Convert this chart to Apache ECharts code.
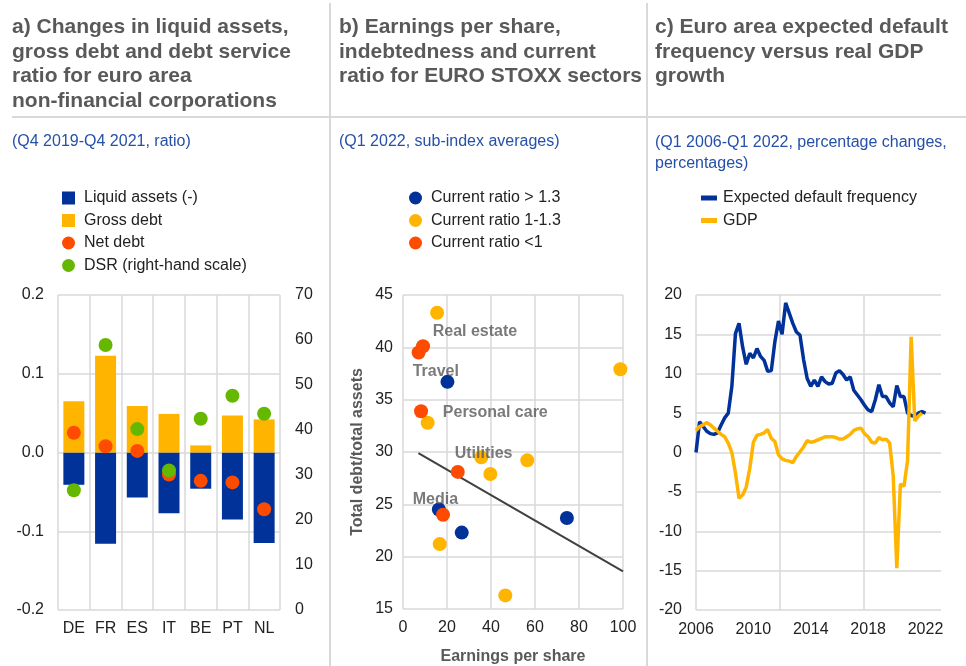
<!DOCTYPE html>
<html>
<head>
<meta charset="utf-8">
<script src="https://cdn.jsdelivr.net/npm/echarts@6/dist/echarts.min.js"></script>
<style>
html,body{margin:0;padding:0;background:#fff;}
#main{width:966px;height:666px;}
</style>
</head>
<body>
<div id="main"></div>
<script>
// a) liquid assets, gross debt, net debt, DSR
var countries = ['DE', 'FR', 'ES', 'IT', 'BE', 'PT', 'NL'];
var liquidAssets = [-0.041, -0.116, -0.057, -0.077, -0.046, -0.085, -0.115];
var grossDebt = [0.065, 0.123, 0.059, 0.049, 0.009, 0.047, 0.042];
var netDebt = [0.025, 0.008, 0.002, -0.028, -0.036, -0.038, -0.072];
var dsr = [26.6, 58.9, 40.2, 31.0, 42.5, 47.6, 43.6];

// b) EPS vs debt/assets, by current ratio group
var ratioHigh = [[20.2, 36.7], [16.3, 24.5], [26.7, 22.3], [74.5, 23.7]];
var ratioMid = [[15.5, 43.3], [98.8, 37.9], [11.2, 32.8], [35.6, 29.5], [56.5, 29.2], [39.7, 27.9], [16.7, 21.2], [46.5, 16.3]];
var ratioLow = [[7.1, 39.5], [9.1, 40.1], [8.2, 33.9], [24.9, 28.1], [18.2, 24.0]];
var trendLine = [[7, 29.9], [100, 18.6]];
var sectorNames = ['Real estate', 'Travel', 'Personal care', 'Utilities', 'Media'];
var sectorAnchors = [[13.5, 41.5], [4.4, 37.7], [18.1, 33.8], [23.5, 29.8], [4.4, 25.5]];

// c) quarterly from Q1 2006
var firstYear = 2006;
var edf = [0.0, 3.9, 3.3, 2.7, 2.4, 2.3, 2.5, 3.5, 4.4, 5.0,
    8.4, 15.1, 16.4, 13.4, 11.2, 12.6, 12.0, 13.2, 12.2, 11.7,
    10.3, 10.4, 14.1, 16.7, 15.0, 19.0, 17.7, 16.4, 15.3, 14.9,
    11.8, 9.4, 8.4, 9.2, 8.4, 9.6, 9.0, 8.7, 8.8, 10.1,
    10.4, 9.9, 9.2, 9.6, 7.9, 7.3, 6.7, 6.0, 5.4, 5.2,
    6.7, 8.6, 7.1, 7.1, 6.3, 5.8, 8.5, 7.1, 7.1, 5.0,
    4.7, 4.6, 5.0, 5.2, 5.0];
var gdp = [2.8, 3.3, 3.5, 3.8, 3.5, 3.1, 2.7, 2.3, 2.0, 1.2,
    0.0, -2.6, -5.8, -5.4, -4.4, -2.0, 1.3, 2.2, 2.3, 2.5,
    2.9, 1.8, 1.4, -0.3, -0.8, -1.0, -1.1, -1.3, -0.5, 0.1,
    0.7, 1.5, 1.3, 1.4, 1.6, 1.8, 2.0, 2.0, 2.0, 1.9,
    1.7, 1.7, 2.0, 2.3, 2.8, 3.0, 3.1, 2.4, 2.0, 1.3,
    1.2, 1.9, 1.6, 1.7, 1.2, -3.0, -14.7, -4.0, -4.3, -1.0,
    14.7, 4.0, 4.6, 5.0];

var BLUE = '#003299', YELLOW = '#ffb400', RED = '#ff4b00', GREEN = '#65b800';
var GRID = '#d9d9d9', TXT = '#222', GREY = '#595959';
var FONT = 'Liberation Sans, Arial, sans-serif';

function quarterly(arr) {
    return arr.map(function (v, i) { return [firstYear + i / 4, v]; });
}

var myChart = echarts.init(document.getElementById('main'));

var axisLbl = { color: TXT, fontSize: 16 };
var split = { show: true, lineStyle: { color: GRID, width: 1.5 } };

var option = {
    animation: false,
    textStyle: { fontFamily: FONT },
    graphic: [
        { type: 'line', shape: { x1: 330, y1: 3, x2: 330, y2: 666 }, style: { stroke: GRID, lineWidth: 2 } },
        { type: 'line', shape: { x1: 647, y1: 3, x2: 647, y2: 666 }, style: { stroke: GRID, lineWidth: 2 } },
        { type: 'line', shape: { x1: 12, y1: 117, x2: 966, y2: 117 }, style: { stroke: GRID, lineWidth: 2 } },
        { type: 'text', left: 12, top: 15, style: { text: 'a) Changes in liquid assets,\ngross debt and debt service\nratio for euro area\nnon-financial corporations', font: 'bold 21px ' + FONT, fill: GREY, lineHeight: 24.5 } },
        { type: 'text', left: 339, top: 15, style: { text: 'b) Earnings per share,\nindebtedness and current\nratio for EURO STOXX sectors', font: 'bold 21px ' + FONT, fill: GREY, lineHeight: 24.5 } },
        { type: 'text', left: 655, top: 15, style: { text: 'c) Euro area expected default\nfrequency versus real GDP\ngrowth', font: 'bold 21px ' + FONT, fill: GREY, lineHeight: 24.5 } },
        { type: 'text', left: 12, top: 134, style: { text: '(Q4 2019-Q4 2021, ratio)', font: '16px ' + FONT, fill: '#2550a8' } },
        { type: 'text', left: 339, top: 134, style: { text: '(Q1 2022, sub-index averages)', font: '16px ' + FONT, fill: '#2550a8' } },
        { type: 'text', left: 655, top: 132, style: { text: '(Q1 2006-Q1 2022, percentage changes,\npercentages)', font: '16px ' + FONT, fill: '#2550a8', lineHeight: 21 } }
    ],
    legend: [
        {
            left: 57, top: 185, orient: 'vertical', itemWidth: 13, itemHeight: 13, itemGap: 6.5,
            textStyle: { color: TXT, fontSize: 16, padding: [0, 0, 0, 4] },
            data: [
                { name: 'Liquid assets (-)', icon: 'rect' },
                { name: 'Gross debt', icon: 'rect' },
                { name: 'Net debt', icon: 'circle' },
                { name: 'DSR (right-hand scale)', icon: 'circle' }
            ]
        },
        {
            left: 404, top: 185, orient: 'vertical', itemWidth: 13, itemHeight: 13, itemGap: 6.5,
            textStyle: { color: TXT, fontSize: 16, padding: [0, 0, 0, 4] },
            data: [
                { name: 'Current ratio > 1.3', icon: 'circle' },
                { name: 'Current ratio 1-1.3', icon: 'circle' },
                { name: 'Current ratio <1', icon: 'circle' }
            ]
        },
        {
            left: 696, top: 185, orient: 'vertical', itemWidth: 16, itemHeight: 5, itemGap: 6.5,
            textStyle: { color: TXT, fontSize: 16, padding: [0, 0, 0, 1] },
            data: [
                { name: 'Expected default frequency', icon: 'rect' },
                { name: 'GDP', icon: 'rect' }
            ]
        }
    ],
    grid: [
        { left: 58, top: 295, width: 222, height: 315 },
        { left: 403, top: 295, width: 220, height: 315 },
        { left: 696, top: 295, width: 245, height: 315 }
    ],
    xAxis: [
        {
            gridIndex: 0, type: 'category', data: countries,
            axisLine: { show: false }, axisTick: { show: false },
            axisLabel: Object.assign({ margin: 11 }, axisLbl),
            splitLine: split
        },
        {
            gridIndex: 1, type: 'value', min: 0, max: 100, interval: 20,
            axisLine: { show: false }, axisTick: { show: false },
            axisLabel: Object.assign({ margin: 11 }, axisLbl),
            splitLine: split,
            name: 'Earnings per share', nameLocation: 'middle', nameGap: 40,
            nameTextStyle: { color: GREY, fontSize: 16, fontWeight: 'bold' }
        },
        {
            gridIndex: 2, type: 'value', min: 2006, max: 2023.08, interval: 4,
            axisLine: { show: false }, axisTick: { show: false },
            axisLabel: Object.assign({
                margin: 12, showMaxLabel: false,
                formatter: function (v) { return String(Math.round(v)); }
            }, axisLbl),
            splitLine: { show: false }
        },
        {
            // vertical gridlines of panel c
            gridIndex: 2, type: 'value', min: 2006, max: 2023.08, interval: 5.86,
            axisLine: { show: false }, axisTick: { show: false }, axisLabel: { show: false },
            splitLine: { show: true, showMaxLine: false, lineStyle: { color: GRID, width: 1.5 } }
        }
    ],
    yAxis: [
        {
            gridIndex: 0, type: 'value', min: -0.2, max: 0.2, interval: 0.1,
            axisLine: { show: false }, axisTick: { show: false },
            axisLabel: Object.assign({ margin: 14, formatter: function (v) { return v.toFixed(1); } }, axisLbl),
            splitLine: split
        },
        {
            gridIndex: 0, type: 'value', min: 0, max: 70, interval: 10, position: 'right',
            axisLine: { show: false }, axisTick: { show: false },
            axisLabel: Object.assign({ margin: 15 }, axisLbl),
            splitLine: { show: false }
        },
        {
            gridIndex: 1, type: 'value', min: 15, max: 45, interval: 5,
            axisLine: { show: false }, axisTick: { show: false },
            axisLabel: Object.assign({ margin: 10 }, axisLbl),
            splitLine: split,
            name: 'Total debt/total assets', nameLocation: 'middle', nameGap: 37,
            nameTextStyle: { color: GREY, fontSize: 16, fontWeight: 'bold' }
        },
        {
            gridIndex: 2, type: 'value', min: -20, max: 20, interval: 5,
            axisLine: { show: false }, axisTick: { show: false },
            axisLabel: Object.assign({ margin: 14 }, axisLbl),
            splitLine: split
        }
    ],
    series: [
        {
            name: 'Liquid assets (-)', type: 'bar', xAxisIndex: 0, yAxisIndex: 0,
            data: liquidAssets, barWidth: 21, barGap: '-100%', itemStyle: { color: BLUE }
        },
        {
            name: 'Gross debt', type: 'bar', xAxisIndex: 0, yAxisIndex: 0,
            data: grossDebt, barWidth: 21, barGap: '-100%', itemStyle: { color: YELLOW }
        },
        {
            name: 'Net debt', type: 'scatter', xAxisIndex: 0, yAxisIndex: 0,
            data: netDebt, symbolSize: 14, itemStyle: { color: RED, opacity: 1 }, z: 3
        },
        {
            name: 'DSR (right-hand scale)', type: 'scatter', xAxisIndex: 0, yAxisIndex: 1,
            data: dsr, symbolSize: 14, itemStyle: { color: GREEN, opacity: 1 }, z: 4
        },
        {
            name: 'trend', type: 'line', xAxisIndex: 1, yAxisIndex: 2,
            data: trendLine, symbol: 'none', lineStyle: { color: '#404040', width: 2 }, z: 2
        },
        {
            name: 'Current ratio > 1.3', type: 'scatter', xAxisIndex: 1, yAxisIndex: 2,
            data: ratioHigh, symbolSize: 14, itemStyle: { color: BLUE, opacity: 1 }, z: 3
        },
        {
            name: 'Current ratio 1-1.3', type: 'scatter', xAxisIndex: 1, yAxisIndex: 2,
            data: ratioMid, symbolSize: 14, itemStyle: { color: YELLOW, opacity: 1 }, z: 3
        },
        {
            name: 'Current ratio <1', type: 'scatter', xAxisIndex: 1, yAxisIndex: 2,
            data: ratioLow, symbolSize: 14, itemStyle: { color: RED, opacity: 1 }, z: 3
        },
        {
            name: 'sectors', type: 'scatter', xAxisIndex: 1, yAxisIndex: 2,
            symbolSize: 0, silent: true, z: 5,
            data: sectorNames.map(function (n, i) { return { name: n, value: sectorAnchors[i] }; }),
            label: {
                show: true, position: 'right', distance: 0, formatter: '{b}',
                color: GREY, fontSize: 16, fontWeight: 'bold'
            }
        },
        {
            name: 'Expected default frequency', type: 'line', xAxisIndex: 2, yAxisIndex: 3,
            data: quarterly(edf), symbol: 'none', lineStyle: { color: BLUE, width: 3.5 },
            itemStyle: { color: BLUE }
        },
        {
            name: 'GDP', type: 'line', xAxisIndex: 2, yAxisIndex: 3,
            data: quarterly(gdp), symbol: 'none', lineStyle: { color: YELLOW, width: 3.5 },
            itemStyle: { color: YELLOW }
        }
    ]
};

myChart.setOption(option);
</script>
</body>
</html>
